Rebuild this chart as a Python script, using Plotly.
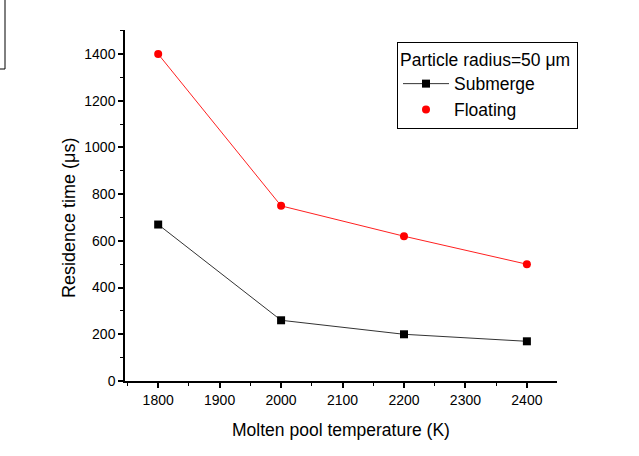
import plotly.graph_objects as go

temperature = [1800, 2000, 2200, 2400]
submerge = [670, 260, 200, 170]
floating = [1400, 750, 620, 500]

W, H = 639, 456
ML, MR, MT, MB = 125, 82, 30, 75
PW, PH = W - ML - MR, H - MT - MB

def px(x):
    return (x - ML) / PW

def py(y):
    return (H - MB - y) / PH

font = "Liberation Sans, Arial, sans-serif"

fig = go.Figure()
fig.add_trace(go.Scatter(
    x=temperature, y=submerge, name="Submerge", mode="lines+markers",
    line=dict(color="#333333", width=1),
    marker=dict(symbol="square", size=8, color="black"),
))
fig.add_trace(go.Scatter(
    x=temperature, y=floating, name="Floating", mode="lines+markers",
    line=dict(color="#ff2020", width=1),
    marker=dict(symbol="circle", size=8, color="#ff0000"),
    showlegend=False,
))
# legend entry for Floating: marker only, as in the reference
fig.add_trace(go.Scatter(
    x=[None], y=[None], name="Floating", mode="markers",
    marker=dict(symbol="circle", size=8, color="#ff0000"),
))

axis_common = dict(
    showline=True, linecolor="black", linewidth=1.5, mirror=False,
    ticks="outside", ticklen=5, tickwidth=1.5, tickcolor="black",
    showgrid=False, zeroline=False,
    tickfont=dict(family=font, size=14, color="black"),
)

fig.update_layout(
    width=W, height=H,
    margin=dict(l=ML, r=MR, t=MT, b=MB),
    paper_bgcolor="white", plot_bgcolor="white",
    font=dict(family=font, color="black"),
    xaxis=dict(
        range=[1746, 2449], tickvals=[1800, 1900, 2000, 2100, 2200, 2300, 2400],
        minor=dict(ticks="outside", ticklen=3, tickwidth=1, tickcolor="black", dtick=50, tick0=1750),
        title=dict(text="Molten pool temperature (K)", font=dict(family=font, size=17.5), standoff=17),
        **axis_common,
    ),
    yaxis=dict(
        range=[0, 1503], tickvals=[0, 200, 400, 600, 800, 1000, 1200, 1400],
        minor=dict(ticks="outside", ticklen=3, tickwidth=1, tickcolor="black", dtick=100, tick0=0),
        **axis_common,
    ),
    annotations=[dict(
        text="Residence time (μs)", textangle=-90, showarrow=False,
        xref="paper", yref="paper", x=px(69), y=py(218),
        xanchor="center", yanchor="middle",
        font=dict(family=font, size=18, color="black"),
    )],
    legend=dict(
        x=px(397), y=py(42), xanchor="left", yanchor="top",
        bordercolor="black", borderwidth=1, bgcolor="white",
        title=dict(text="Particle radius=50 μm ", font=dict(family=font, size=17.5)),
        font=dict(family=font, size=17.5), tracegroupgap=0, itemwidth=46,
    ),
    shapes=[dict(
        type="rect", xref="paper", yref="paper",
        x0=px(-5), x1=px(5), y0=py(69), y1=py(-5),
        line=dict(color="black", width=1),
    )],
)

fig.write_html("out.html")
